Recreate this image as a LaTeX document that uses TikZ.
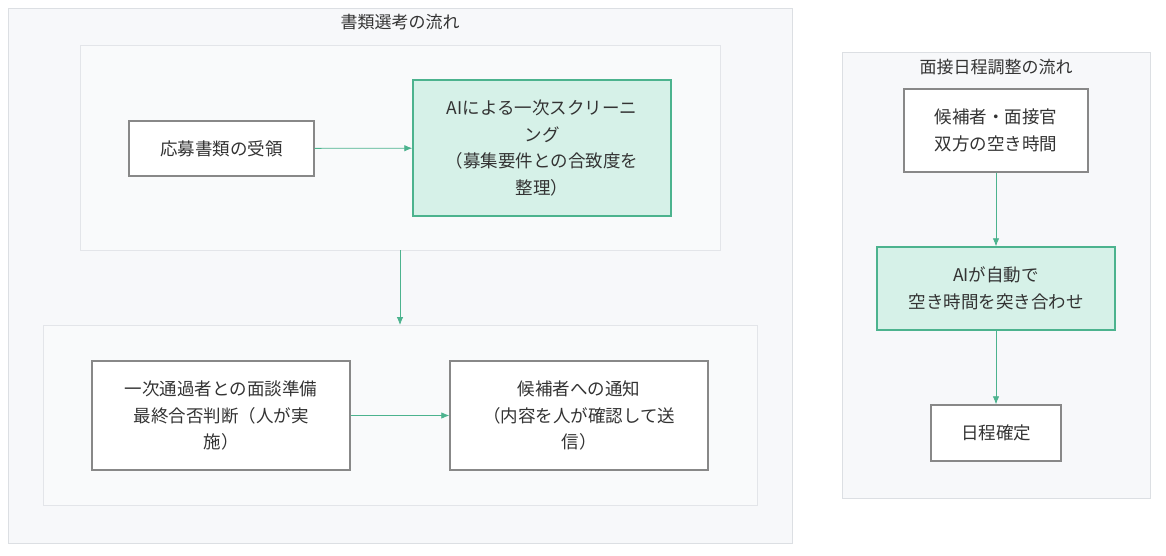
\documentclass[tikz,border=0pt]{standalone}
\usepackage{fontspec}
\setmainfont{Noto Sans CJK JP}
\usetikzlibrary{arrows.meta}
\definecolor{clf}{HTML}{F7F8FA}
\definecolor{cld}{HTML}{DCDFE3}
\definecolor{inf}{HTML}{F9FAFB}
\definecolor{gf}{HTML}{D6F1E8}
\definecolor{gd}{HTML}{4CB38E}
\definecolor{nd}{HTML}{888888}
\definecolor{tx}{HTML}{333333}
\begin{document}
\begin{tikzpicture}[x=1pt,y=-1pt,
  cl/.style={draw=cld,fill=clf,line width=0.8pt},
  icl/.style={draw=cld!80,fill=inf,line width=0.8pt},
  box/.style={draw=nd,fill=white,line width=1.4pt,align=center,text=tx,font=\fontsize{17.5}{26.5}\selectfont},
  gbox/.style={draw=gd,fill=gf,line width=1.4pt,align=center,text=tx,font=\fontsize{17.5}{26.5}\selectfont},
  ttl/.style={text=tx,font=\fontsize{17}{20}\selectfont},
  arr/.style={draw=gd,line width=0.8pt,-{Latex[length=8pt,width=6.5pt]}}]
\useasboundingbox (0,0) rectangle (1166,555);
\fill[white] (0,0) rectangle (1166,555);
\draw[cl] (8,8) rectangle (792,543);
\node[ttl] (t1) at (400,22) {書類選考の流れ};
\draw[icl] (80,45) rectangle (720,250);
\draw[icl] (43,325) rectangle (757,505);
\coordinate (c1b) at (400,250);
\coordinate (c2t) at (400,325);
\draw[cl] (842,52) rectangle (1150,498);
\node[ttl] (t2) at (996,67) {面接日程調整の流れ};
\node[box,minimum width=185pt,minimum height=55pt] (a) at (221.5,148.5) {応募書類の受領};
\node[gbox,minimum width=258pt,minimum height=136pt] (b) at (542,148) {AIによる一次スクリーニ\\ング\\（募集要件との合致度を\\整理）};
\node[box,minimum width=258pt,minimum height=109pt] (c) at (221,415.5) {一次通過者との面談準備\\最終合否判断（人が実\\施）};
\node[box,minimum width=258pt,minimum height=109pt] (d) at (579,415.5) {候補者への通知\\（内容を人が確認して送\\信）};
\node[box,minimum width=184pt,minimum height=83pt] (e) at (996,130.5) {候補者・面接官\\双方の空き時間};
\node[gbox,minimum width=238pt,minimum height=83pt] (f) at (996,288.5) {AIが自動で\\空き時間を突き合わせ};
\node[box,minimum width=130pt,minimum height=56pt] (g) at (996,433) {日程確定};
\draw[arr] (a) -- (b);
\draw[arr] (c1b) -- (c2t);
\draw[arr] (c) -- (d);
\draw[arr] (e) -- (f);
\draw[arr] (f) -- (g);
\end{tikzpicture}
\end{document}
